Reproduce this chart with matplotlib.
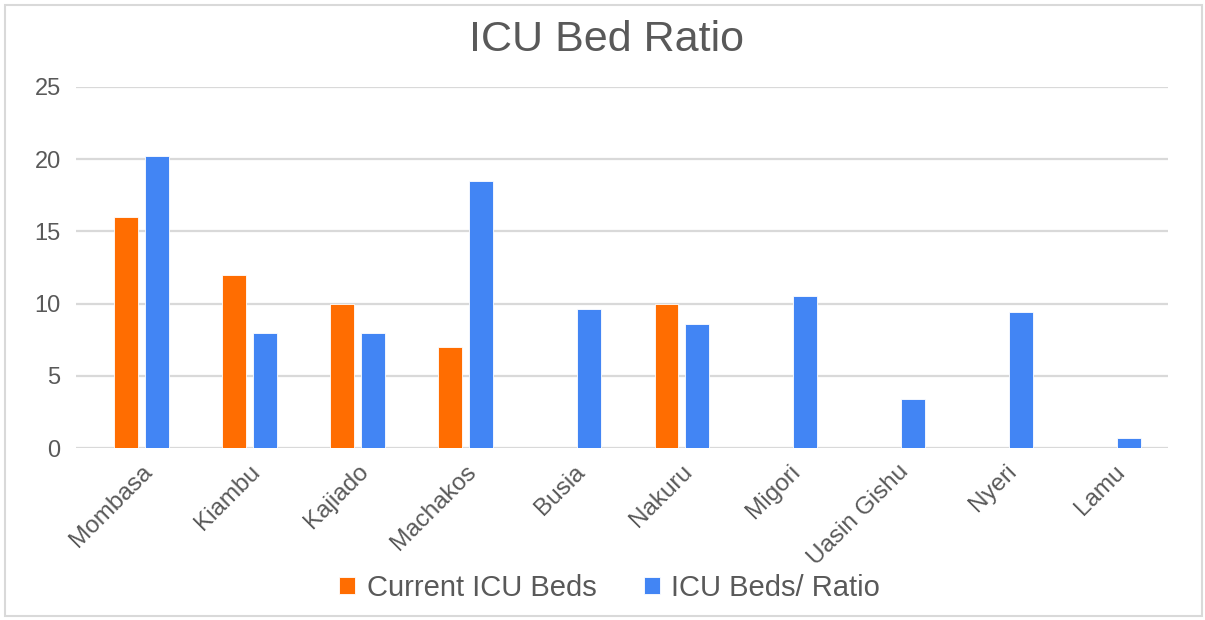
import numpy as np
import matplotlib
matplotlib.use("Agg")
from matplotlib import pyplot as plt
from matplotlib.patches import Rectangle

counties = ["Mombasa", "Kiambu", "Kajiado", "Machakos", "Busia",
            "Nakuru", "Migori", "Uasin Gishu", "Nyeri", "Lamu"]
current_beds = [16, 12, 10, 7, 0, 10, 0, 0, 0, 0]
bed_ratio = [20.2, 8, 8, 18.5, 9.6, 8.6, 10.5, 3.4, 9.4, 0.7]
yticks = [0, 5, 10, 15, 20, 25]

orange = "#FF6D01"
blue = "#4285F4"
grey = "#595959"

plt.rcParams["font.family"] = ["Liberation Sans", "DejaVu Sans"]

fig = plt.figure(figsize=(12.05, 6.2), dpi=100)
ax = fig.add_axes([0.063, 0.277, 0.906, 0.583])

x = np.arange(len(counties))
w = 0.22
ax.bar(x - 0.14, current_beds, w, color=orange, edgecolor="white",
       linewidth=0.6, label="Current ICU Beds", zorder=3)
ax.bar(x + 0.145, bed_ratio, w, color=blue, edgecolor="white",
       linewidth=0.6, label="ICU Beds/ Ratio", zorder=3)

ax.set_xlim(-0.606, 9.5)
ax.set_ylim(0, 25)
ax.set_yticks(yticks)
ax.yaxis.grid(True, color="#D9D9D9", linewidth=1.6, zorder=0)
ax.tick_params(axis="y", length=0, pad=11, labelsize=17, labelcolor=grey)
ax.tick_params(axis="x", length=0, pad=9)
ax.set_xticks(x)
ax.set_xticklabels(counties, rotation=45, ha="right", rotation_mode="anchor",
                   fontsize=17.5, color=grey)
for s in ax.spines.values():
    s.set_visible(False)

fig.text(0.503, 0.935, "ICU Bed Ratio", ha="center", va="center",
         fontsize=31, color=grey)

fig.legend(loc="center", bbox_to_anchor=(0.506, 0.052), ncol=2, frameon=False,
           fontsize=21, labelcolor=grey, handlelength=0.55, handleheight=0.55,
           handletextpad=0.4, columnspacing=1.6)

fig.patches.append(Rectangle((5 / 1205, 4 / 620), 1197 / 1205, 611 / 620,
                             transform=fig.transFigure, fill=False,
                             edgecolor="#D9D9D9", linewidth=1.5))

plt.savefig("out.png", dpi=100)
